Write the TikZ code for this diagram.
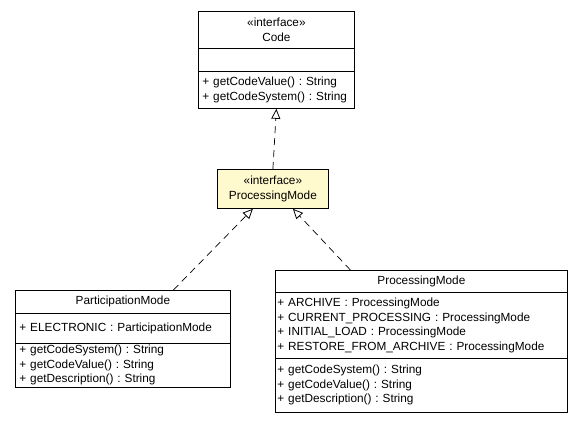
\documentclass[tikz,border=0pt]{standalone}
\usepackage{fontspec}
\setmainfont{Liberation Sans}
\usetikzlibrary{arrows.meta}

\definecolor{lemon}{RGB}{255,250,205}
\newcommand{\umlfont}{\fontsize{11.8}{14.5}\selectfont\frenchspacing}

\tikzset{
	umlpart/.style={draw, anchor=north west, inner sep=0pt, font=\umlfont, line width=0.8pt},
	umlhead/.style={umlpart, align=center},
	umlbody/.style={umlpart, align=left, inner xsep=4pt},
	realize/.style={dashed, dash pattern=on 7pt off 5pt, line width=0.7pt,
		-{Triangle[open, length=10pt, width=9pt, line width=0.8pt]}}
}

\begin{document}
\begin{tikzpicture}[x=1pt, y=-1pt]
		\useasboundingbox (0,0) rectangle (583,421);

		% interface Code
		\node[umlhead, minimum width=156pt, minimum height=37pt] (code-name) at (198,11)
			{\guillemotleft interface\guillemotright\\Code};
		\node[umlbody, text width=148pt, minimum height=23pt] (code-attr) at (198,48) {};
		\node[umlbody, text width=148pt, minimum height=37pt] (code-ops) at (198,71)
			{+ getCodeValue() : String\\+ getCodeSystem() : String};

		% interface ProcessingMode
		\node[umlhead, fill=lemon, minimum width=111pt, minimum height=39pt] (iface) at (217,169)
			{\guillemotleft interface\guillemotright\\ProcessingMode};

		% class ParticipationMode
		\node[umlhead, minimum width=215pt, minimum height=23pt] (pm-name) at (15,290)
			{ParticipationMode};
		\node[umlbody, text width=207pt, minimum height=30pt] (pm-attr) at (15,313)
			{+ ELECTRONIC : ParticipationMode};
		\node[umlbody, text width=207pt, minimum height=44pt] (pm-ops) at (15,343)
			{+ getCodeSystem() : String\\+ getCodeValue() : String\\+ getDescription() : String};

		% class ProcessingMode
		\node[umlhead, minimum width=292pt, minimum height=22pt] (pc-name) at (275,270)
			{ProcessingMode};
		\node[umlbody, inner xsep=2pt, text width=288pt, minimum height=66pt] (pc-attr) at (275,292)
			{+ ARCHIVE : ProcessingMode\\+ CURRENT\_PROCESSING : ProcessingMode\\
			 + INITIAL\_LOAD : ProcessingMode\\+ RESTORE\_FROM\_ARCHIVE : ProcessingMode};
		\node[umlbody, inner xsep=2pt, text width=288pt, minimum height=54pt] (pc-ops) at (275,358)
			{+ getCodeSystem() : String\\+ getCodeValue() : String\\+ getDescription() : String};

		% realizations
		\draw[realize] (iface.north) -- (code-ops.south);
		\draw[realize] ([xshift=50.5pt]pm-name.north) -- ([xshift=-20pt]iface.south);
		\draw[realize] ([xshift=-71pt]pc-name.north) -- ([xshift=20pt]iface.south);
	\end{tikzpicture}
\end{document}
